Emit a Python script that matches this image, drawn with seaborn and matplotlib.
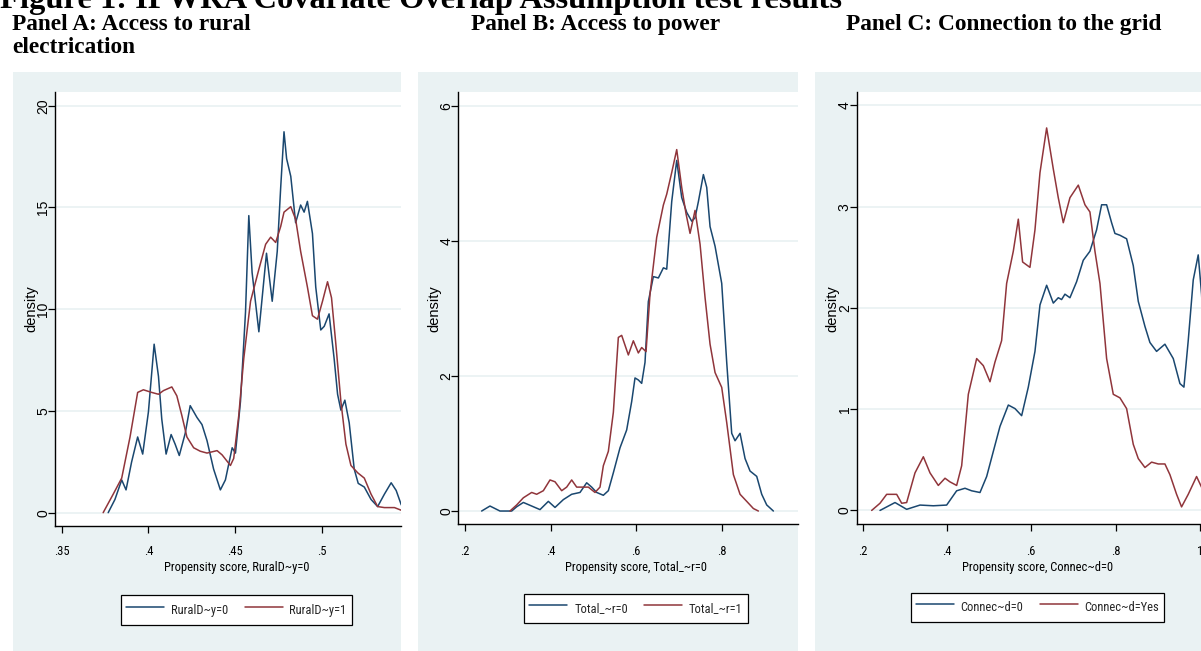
import matplotlib
matplotlib.use("Agg")
import matplotlib.pyplot as plt
from matplotlib import font_manager
from matplotlib.patches import Rectangle
from matplotlib.lines import Line2D
import seaborn as sns

# --- Panel A: access to rural electrification (RuralD~y) ---
a_x_ticks = [0.35, 0.40, 0.45, 0.50]
a_x_labels = [".35", ".4", ".45", ".5"]
a_y_ticks = [0, 5, 10, 15, 20]
a_y_labels = ["0", "5", "10", "15", "20"]
a_series = ["RuralD~y=0", "RuralD~y=1"]
a_xtitle = "Propensity score, RuralD~y=0"

a0_x = [0.3768, 0.3807, 0.3846, 0.3871, 0.3903, 0.3938, 0.3967, 0.4000, 0.4033, 0.4058,
        0.4077, 0.4102, 0.4131, 0.4154, 0.4178, 0.4212, 0.4241, 0.4280, 0.4309, 0.4338,
        0.4376, 0.4415, 0.4444, 0.4483, 0.4502, 0.4531, 0.4560, 0.4579, 0.4598, 0.4637,
        0.4666, 0.4681, 0.4714, 0.4743, 0.4763, 0.4782, 0.4797, 0.4821, 0.4849, 0.4878,
        0.4898, 0.4917, 0.4946, 0.4965, 0.4994, 0.5014, 0.5042, 0.5071, 0.5091, 0.5110,
        0.5133, 0.5158, 0.5187, 0.5210, 0.5245, 0.5284, 0.5322, 0.5361, 0.5400, 0.5429,
        0.5458, 0.5487]
a0_y = [0.00, 0.65, 1.61, 1.12, 2.49, 3.72, 2.88, 4.95, 8.28, 6.70,
        4.60, 2.88, 3.84, 3.37, 2.81, 3.89, 5.26, 4.68, 4.33, 3.54,
        2.14, 1.12, 1.61, 3.19, 2.93, 5.47, 9.86, 14.60, 11.80, 8.89,
        11.44, 12.75, 10.39, 12.84, 16.00, 18.72, 17.40, 16.53, 14.25, 15.12,
        14.77, 15.30, 13.72, 11.09, 8.98, 9.16, 9.77, 7.58, 5.82, 5.04,
        5.53, 4.42, 2.14, 1.44, 1.26, 0.65, 0.30, 0.91, 1.47, 1.09,
        0.39, 0.12]
a1_x = [0.3739, 0.3797, 0.3846, 0.3894, 0.3938, 0.3971, 0.4019, 0.4058, 0.4087, 0.4135,
        0.4164, 0.4193, 0.4222, 0.4261, 0.4299, 0.4338, 0.4396, 0.4425, 0.4473, 0.4492,
        0.4521, 0.4550, 0.4589, 0.4637, 0.4676, 0.4705, 0.4734, 0.4763, 0.4782, 0.4821,
        0.4849, 0.4878, 0.4917, 0.4946, 0.4975, 0.5004, 0.5033, 0.5056, 0.5081, 0.5110,
        0.5139, 0.5168, 0.5207, 0.5245, 0.5284, 0.5322, 0.5361, 0.5419, 0.5458]
a1_y = [0.00, 0.91, 1.70, 3.72, 5.91, 6.04, 5.91, 5.82, 6.00, 6.18,
        5.74, 4.77, 3.72, 3.19, 3.02, 2.93, 3.05, 2.84, 2.32, 2.67,
        4.77, 7.58, 10.39, 11.96, 13.19, 13.54, 13.28, 14.07, 14.77, 15.04,
        14.42, 12.84, 11.09, 9.68, 9.51, 10.39, 11.35, 10.56, 8.28, 5.47,
        3.37, 2.32, 1.96, 1.70, 0.91, 0.30, 0.25, 0.25, 0.12]

# --- Panel B: access to power (Total_~r) ---
b_x_ticks = [0.2, 0.4, 0.6, 0.8]
b_x_labels = [".2", ".4", ".6", ".8"]
b_y_ticks = [0, 2, 4, 6]
b_y_labels = ["0", "2", "4", "6"]
b_series = ["Total_~r=0", "Total_~r=1"]
b_xtitle = "Propensity score, Total_~r=0"

b0_x = [0.2382, 0.2577, 0.2811, 0.3085, 0.3202, 0.3358, 0.3553, 0.3748, 0.3943, 0.4099,
        0.4294, 0.4489, 0.4684, 0.4840, 0.4957, 0.5074, 0.5230, 0.5347, 0.5464, 0.5620,
        0.5776, 0.5893, 0.5971, 0.6049, 0.6127, 0.6205, 0.6283, 0.6400, 0.6518, 0.6635,
        0.6713, 0.6830, 0.6947, 0.7064, 0.7181, 0.7298, 0.7376, 0.7454, 0.7571, 0.7649,
        0.7727, 0.7844, 0.8000, 0.8117, 0.8234, 0.8312, 0.8429, 0.8546, 0.8663, 0.8819,
        0.8936, 0.9053, 0.9209]
b0_y = [0.000, 0.074, 0.000, 0.000, 0.063, 0.127, 0.074, 0.021, 0.143, 0.053,
        0.169, 0.248, 0.275, 0.418, 0.354, 0.275, 0.233, 0.301, 0.566, 0.936,
        1.20, 1.62, 1.97, 1.94, 1.89, 2.20, 3.10, 3.47, 3.45, 3.60,
        3.58, 4.58, 5.19, 4.64, 4.42, 4.29, 4.34, 4.58, 4.98, 4.79,
        4.21, 3.92, 3.37, 2.20, 1.15, 1.04, 1.15, 0.777, 0.592, 0.513,
        0.248, 0.090, 0.000]
b1_x = [0.3045, 0.3202, 0.3358, 0.3553, 0.3670, 0.3826, 0.3982, 0.4099, 0.4255, 0.4372,
        0.4489, 0.4606, 0.4762, 0.4879, 0.5035, 0.5152, 0.5230, 0.5347, 0.5464, 0.5581,
        0.5659, 0.5815, 0.5932, 0.6049, 0.6127, 0.6229, 0.6322, 0.6478, 0.6635, 0.6713,
        0.6830, 0.6947, 0.7064, 0.7165, 0.7259, 0.7376, 0.7493, 0.7610, 0.7727, 0.7844,
        0.8000, 0.8117, 0.8273, 0.8429, 0.8585, 0.8741, 0.8858]
b1_y = [0.000, 0.090, 0.196, 0.275, 0.248, 0.301, 0.460, 0.433, 0.301, 0.354,
        0.460, 0.354, 0.354, 0.354, 0.275, 0.354, 0.671, 0.883, 1.46, 2.57,
        2.60, 2.31, 2.52, 2.34, 2.42, 2.36, 3.21, 4.05, 4.53, 4.69,
        5.01, 5.35, 4.79, 4.40, 4.11, 4.45, 3.95, 3.16, 2.47, 2.05,
        1.83, 1.31, 0.539, 0.248, 0.143, 0.037, 0.000]

# --- Panel C: connection to the grid (Connec~d) ---
c_x_ticks = [0.2, 0.4, 0.6, 0.8, 1.0]
c_x_labels = [".2", ".4", ".6", ".8", "1"]
c_y_ticks = [0, 1, 2, 3, 4]
c_y_labels = ["0", "1", "2", "3", "4"]
c_series = ["Connec~d=0", "Connec~d=Yes"]
c_xtitle = "Propensity score, Connec~d=0"

c0_x = [0.2411, 0.2767, 0.3043, 0.3360, 0.3676, 0.3992, 0.4229, 0.4427, 0.4585, 0.4783,
        0.4941, 0.5099, 0.5257, 0.5455, 0.5613, 0.5771, 0.5929, 0.6087, 0.6206, 0.6364,
        0.6522, 0.6640, 0.6719, 0.6798, 0.6917, 0.7075, 0.7233, 0.7391, 0.7549, 0.7668,
        0.7787, 0.7905, 0.7984, 0.8103, 0.8261, 0.8419, 0.8538, 0.8696, 0.8814, 0.8972,
        0.9170, 0.9368, 0.9526, 0.9621, 0.9723, 0.9842, 0.9960, 1.0040, 1.0120]
c0_y = [0.000, 0.078, 0.011, 0.053, 0.046, 0.053, 0.194, 0.219, 0.194, 0.177,
        0.335, 0.583, 0.830, 1.041, 1.006, 0.936, 1.218, 1.571, 2.030, 2.224,
        2.048, 2.101, 2.083, 2.136, 2.101, 2.259, 2.471, 2.560, 2.771, 3.019,
        3.019, 2.842, 2.736, 2.718, 2.683, 2.418, 2.065, 1.818, 1.659, 1.571,
        1.642, 1.500, 1.253, 1.218, 1.677, 2.277, 2.524, 2.136, 1.430]
c1_x = [0.2213, 0.2411, 0.2569, 0.2806, 0.2925, 0.3043, 0.3241, 0.3439, 0.3597, 0.3794,
        0.3953, 0.4071, 0.4229, 0.4348, 0.4506, 0.4704, 0.4862, 0.5020, 0.5138, 0.5296,
        0.5415, 0.5573, 0.5692, 0.5794, 0.5968, 0.6087, 0.6206, 0.6364, 0.6522, 0.6640,
        0.6759, 0.6917, 0.7115, 0.7273, 0.7391, 0.7510, 0.7629, 0.7787, 0.7945, 0.8103,
        0.8261, 0.8419, 0.8538, 0.8696, 0.8854, 0.9012, 0.9170, 0.9289, 0.9447, 0.9565,
        0.9723, 0.9921, 1.0040]
c1_y = [0.000, 0.071, 0.159, 0.159, 0.071, 0.078, 0.371, 0.530, 0.371, 0.247,
        0.318, 0.282, 0.247, 0.441, 1.147, 1.500, 1.430, 1.271, 1.465, 1.677,
        2.242, 2.560, 2.877, 2.454, 2.401, 2.771, 3.336, 3.778, 3.372, 3.089,
        2.842, 3.089, 3.213, 3.019, 2.948, 2.560, 2.242, 1.500, 1.147, 1.112,
        1.006, 0.653, 0.512, 0.424, 0.477, 0.459, 0.459, 0.353, 0.159, 0.035,
        0.159, 0.335, 0.229]

# --- Style ---
sns.set_theme(style="white")

# Stata exports squeeze horizontal text; use a narrow face if there is one
installed = {f.name for f in font_manager.fontManager.ttflist}
if "Liberation Sans Narrow" in installed:
    NARROW, NSIZE = "Liberation Sans Narrow", 9.2
elif "Roboto Condensed" in installed:
    NARROW, NSIZE = "Roboto Condensed", 9.0
else:
    NARROW, NSIZE = "Liberation Sans", 7.9
plt.rcParams["font.family"] = [NARROW, "Liberation Sans", "DejaVu Sans"]

BLUE = "#1a476f"
RED = "#90353b"
BG = "#eaf2f3"
W, H = 1201, 651
EM = NSIZE * 100 / 72  # font size in pixels

fig = plt.figure(figsize=(W / 100, H / 100), dpi=100)


def fx(px):
    return px / W


def fy(py):
    return 1 - py / H


def draw_panel(box, plot, xlim, ylim, xt, xl, yt, yl, curves, names, xtitle, ylab_x, legend_c):
    # light blue-grey graph region behind each panel
    x0, x1 = box
    fig.add_artist(Rectangle((fx(x0), 0), fx(x1) - fx(x0), fy(72), transform=fig.transFigure,
                             facecolor=BG, edgecolor="none", zorder=-1))
    left, right, top, bottom = plot
    ax = fig.add_axes([fx(left), fy(bottom), fx(right) - fx(left), fy(top) - fy(bottom)])
    ax.set_facecolor("white")

    for (cx, cy), col in zip(curves, [BLUE, RED]):
        sns.lineplot(x=cx, y=cy, ax=ax, color=col, lw=1.1, sort=False, estimator=None)

    ax.set_xlim(*xlim)
    ax.set_ylim(*ylim)
    ax.set_xticks(xt, labels=xl, fontsize=NSIZE)
    ax.set_yticks(yt, labels=yl)
    for lbl in ax.get_yticklabels():
        lbl.set_rotation(90)
        lbl.set_va("center")
        lbl.set_fontfamily("Liberation Sans")
        lbl.set_fontsize(10)
    x_pad = (551.5 - (bottom + 7) - 0.547 * EM) * 72 / 100
    ax.tick_params(axis="both", which="major", direction="out", length=5, width=0.9,
                   color="black", labelcolor="black", bottom=True, left=True)
    ax.tick_params(axis="x", pad=x_pad)
    ax.tick_params(axis="y", pad=-1.5)
    ax.yaxis.grid(True, color=BG, lw=1.3)
    ax.xaxis.grid(False)
    ax.set_axisbelow(True)
    for s in ["top", "right"]:
        ax.spines[s].set_visible(False)
    for s in ["left", "bottom"]:
        ax.spines[s].set_color("black")
        ax.spines[s].set_linewidth(1.0)

    ax.set_xlabel(xtitle, fontsize=NSIZE, color="black", va="center")
    ax.xaxis.set_label_coords(fx(legend_c[0]), fy(568), transform=fig.transFigure)
    ax.set_ylabel("density", fontsize=10.5, color="black", va="center", fontfamily="Liberation Sans")
    ax.yaxis.set_label_coords(fx(ylab_x), fy(308.6), transform=fig.transFigure)

    handles = [Line2D([], [], color=BLUE, lw=1.1), Line2D([], [], color=RED, lw=1.1)]
    leg = fig.legend(handles, names, loc="center",
                     bbox_to_anchor=(fx(legend_c[0]), fy(legend_c[1])),
                     ncol=2, frameon=True, fancybox=False, edgecolor="black", framealpha=1,
                     fontsize=NSIZE, handlelength=38 / EM, handletextpad=7 / EM,
                     columnspacing=16 / EM, borderpad=5 / EM, handleheight=26 / EM,
                     borderaxespad=0)
    leg.get_frame().set_linewidth(0.9)
    return ax


draw_panel((13.3, 400.7), (55.3, 400.7, 92.3, 525.7), (0.3463, 0.5455), (-0.64, 20.66),
           a_x_ticks, a_x_labels, a_y_ticks, a_y_labels,
           [(a0_x, a0_y), (a1_x, a1_y)], a_series, a_xtitle, 31, (236.5, 610))

draw_panel((418.3, 797.7), (458.3, 797.7, 92.3, 524), (0.1836, 0.9778), (-0.192, 6.198),
           b_x_ticks, b_x_labels, b_y_ticks, b_y_labels,
           [(b0_x, b0_y), (b1_x, b1_y)], b_series, b_xtitle, 434, (636, 608.5))

draw_panel((815, 1201), (856.7, 1201, 92.3, 524), (0.1858, 1.0026), (-0.134, 4.13),
           c_x_ticks, c_x_labels, c_y_ticks, c_y_labels,
           [(c0_x, c0_y), (c1_x, c1_y)], c_series, c_xtitle, 832.5, (1037.5, 607.5))

# --- Titles (Times-like bold serif) ---
serif = dict(fontfamily="Liberation Serif", fontweight="bold", color="black", va="baseline", ha="left")
fig.text(fx(0), fy(8), "Figure 1: IPWRA Covariate Overlap Assumption test results", fontsize=23.4, **serif)
fig.text(fx(12), fy(29.6), "Panel A: Access to rural", fontsize=16.8, **serif)
fig.text(fx(12), fy(53), "electrication", fontsize=16.8, **serif)
fig.text(fx(471), fy(29.6), "Panel B: Access to power", fontsize=16.8, **serif)
fig.text(fx(846), fy(29.6), "Panel C: Connection to the grid", fontsize=16.8, **serif)

fig.savefig("out.png", dpi=100)
